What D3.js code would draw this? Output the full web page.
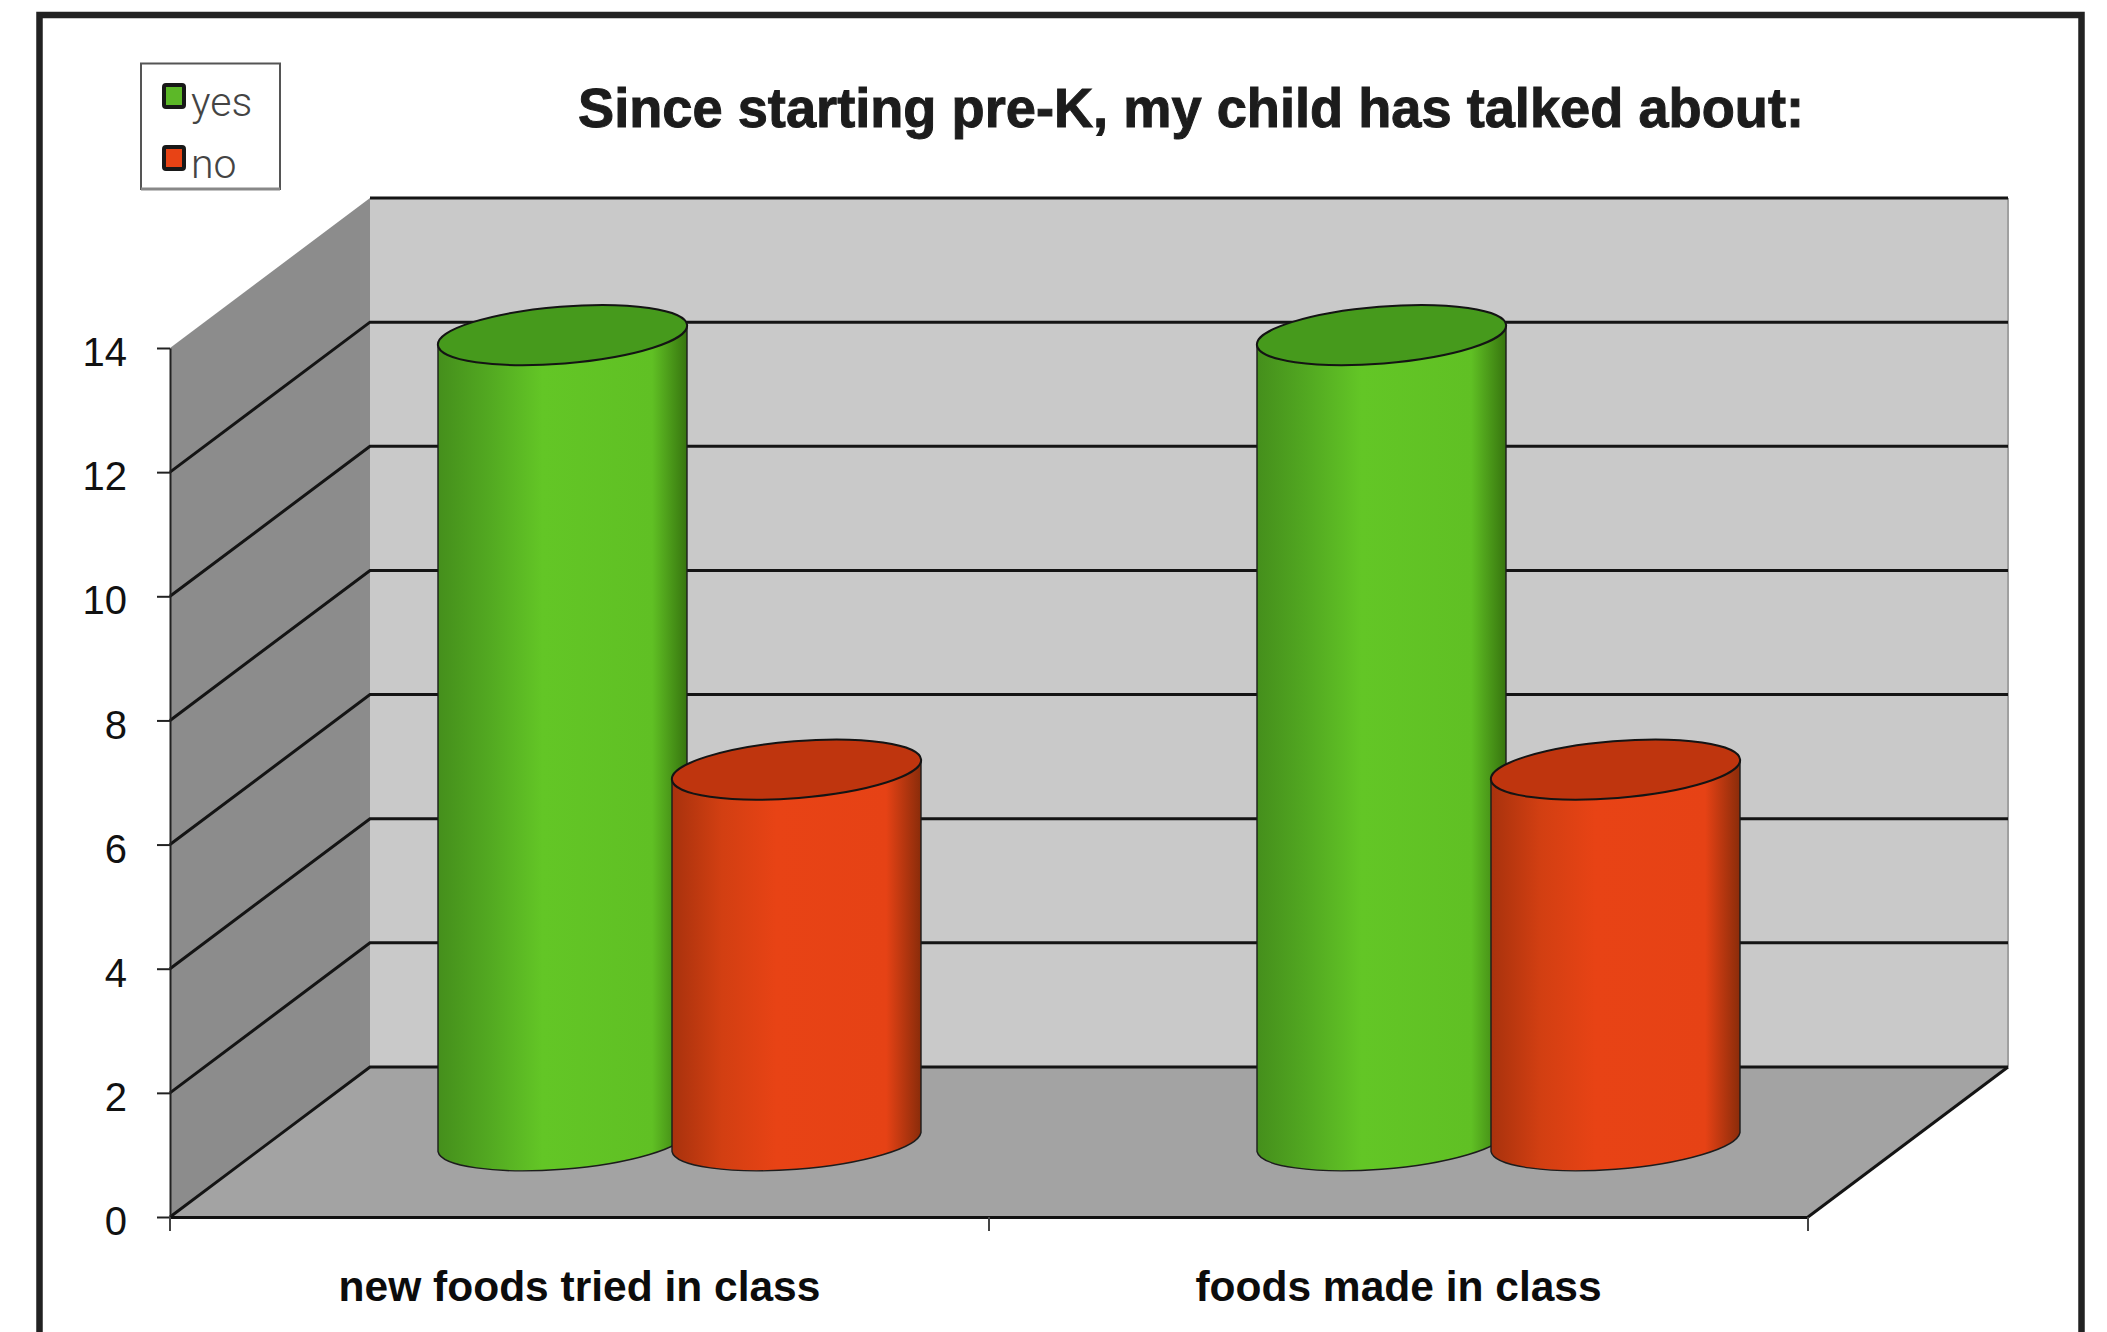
<!DOCTYPE html>
<html>
<head>
<meta charset="utf-8">
<title>Since starting pre-K</title>
<script src="https://d3js.org/d3.v7.min.js"></script>
<style>
	html, body { margin: 0; padding: 0; background: #fff; }
	svg { display: block; }
	text { font-family: "Liberation Sans", Arial, sans-serif; }
</style>
</head>
<body>
<div id="chart"></div>
<script>
var TITLE = "Since starting pre-K, my child has talked about:";
var categories = ["new foods tried in class", "foods made in class"];
var seriesNames = ["yes", "no"];
var yesValues = [13, 13];
var noValues = [6, 6];
var yTicks = [0, 2, 4, 6, 8, 10, 12, 14];

var WIDTH = 2107;
var HEIGHT = 1332;

// the plot is a box: front face plus an offset for the depth of the floor
var FRONT_LEFT = 170, FRONT_RIGHT = 1808, FRONT_BOTTOM = 1217, FRONT_TOP = 348;
var DEPTH_X = 200, DEPTH_Y = -150;

// cylinder top/bottom ellipse, slightly tilted
var RX = 125, RY = 28.4, TILT = -4.6, SIDE_X = 124.5, SIDE_Y = 9.5;

var svg = d3.select("#chart").append("svg").attr("width", WIDTH).attr("height", HEIGHT);
var defs = svg.append("defs");

var y = d3.scaleLinear().domain([0, 14]).range([FRONT_BOTTOM, FRONT_TOP]);
var x0 = d3.scaleBand().domain(categories).range([FRONT_LEFT, FRONT_RIGHT]);
var x1 = d3.scaleBand().domain(seriesNames).range([0, x0.bandwidth()]).paddingInner(0).paddingOuter(0.75);

var colours = {
	yes: { top: "#469a1c", swatch: "#5cb828", stops: [["0%", "#458f1c"], ["20%", "#52a821"], ["42%", "#63c626"], ["86%", "#60c024"], ["100%", "#37750f"]] },
	no: { top: "#bf350e", swatch: "#e84315", stops: [["0%", "#a8320d"], ["20%", "#d23f12"], ["42%", "#e84315"], ["86%", "#e64215"], ["100%", "#8a2c0a"]] }
};

seriesNames.forEach(function(name) {
	let grad = defs.append("linearGradient").attr("id", "body-" + name);
	colours[name].stops.forEach(function(s) {
		grad.append("stop").attr("offset", s[0]).attr("stop-color", s[1]);
	});
});

// white card with the heavy frame, running off the bottom of the picture
svg.append("rect").attr("x", 39.5).attr("y", 15).attr("width", 2042).attr("height", 1400)
	.attr("fill", "#fff").attr("stroke", "#222").attr("stroke-width", 6.5);

svg.append("text").attr("x", 578).attr("y", 127)
	.attr("textLength", 1226).attr("lengthAdjust", "spacingAndGlyphs")
	.style("font-size", "55px").style("font-weight", "bold")
	.attr("fill", "#1c1c1c").attr("stroke", "#1c1c1c").attr("stroke-width", 1).text(TITLE);

// walls and floor
function poly(points) { return "M" + points.map(function(p) { return p.join(","); }).join("L") + "Z"; }
var backBottom = FRONT_BOTTOM + DEPTH_Y, backTop = FRONT_TOP + DEPTH_Y;
var backLeft = FRONT_LEFT + DEPTH_X, backRight = FRONT_RIGHT + DEPTH_X;

svg.append("path").attr("fill", "#c9c9c9")
	.attr("d", poly([[backLeft, backTop], [backRight, backTop], [backRight, backBottom], [backLeft, backBottom]]));
svg.append("line").attr("x1", backRight).attr("x2", backRight).attr("y1", backTop).attr("y2", backBottom)
	.attr("stroke", "#a0a0a0").attr("stroke-width", 2);
svg.append("path").attr("fill", "#8c8c8c")
	.attr("d", poly([[FRONT_LEFT, FRONT_BOTTOM], [backLeft, backBottom], [backLeft, backTop], [FRONT_LEFT, FRONT_TOP]]));
svg.append("path").attr("fill", "#a3a3a3")
	.attr("d", poly([[FRONT_LEFT, FRONT_BOTTOM], [FRONT_RIGHT, FRONT_BOTTOM], [backRight, backBottom], [backLeft, backBottom]]));

// gridlines run along the side wall, then across the back wall
var gridPath = function(v) {
	let yf = y(v);
	if (v == 14) return "M" + backLeft + "," + (yf + DEPTH_Y) + "L" + backRight + "," + (yf + DEPTH_Y);
	return "M" + FRONT_LEFT + "," + yf + "L" + backLeft + "," + (yf + DEPTH_Y) + "L" + backRight + "," + (yf + DEPTH_Y);
};
svg.append("g").selectAll("path").data(yTicks).join("path")
	.attr("d", gridPath).attr("fill", "none").attr("stroke", "#141414")
	.attr("stroke-width", 3);
svg.append("path").attr("fill", "none").attr("stroke", "#141414").attr("stroke-width", 3)
	.attr("d", "M" + FRONT_RIGHT + "," + FRONT_BOTTOM + "L" + backRight + "," + backBottom);

// flatten the data to one cylinder per category and series, in drawing order
var bars = [];
categories.forEach(function(c, i) {
	bars.push({ category: c, series: "yes", value: yesValues[i] });
	bars.push({ category: c, series: "no", value: noValues[i] });
});

var cylinders = svg.append("g").selectAll("g").data(bars).join("g");
function centreX(d) { return x0(d.category) + x1(d.series) + x1.bandwidth() / 2 + DEPTH_X / 2; }
var baseY = function() { return y(0) + DEPTH_Y / 2; };
function topY(d) { return y(d.value) + DEPTH_Y / 2; }

cylinders.append("path")
	.attr("fill", function(d) { return "url(#body-" + d.series + ")"; })
	.attr("stroke", "#1c1c1c").attr("stroke-width", 1.4)
	.attr("d", function(d) {
		let cx = centreX(d), ty = topY(d), by = baseY();
		let arc = "A" + RX + "," + RY + " " + TILT + " 0 0 ";
		return "M" + (cx - SIDE_X) + "," + (ty + SIDE_Y)
			+ "L" + (cx - SIDE_X) + "," + (by + SIDE_Y)
			+ arc + (cx + SIDE_X) + "," + (by - SIDE_Y)
			+ "L" + (cx + SIDE_X) + "," + (ty - SIDE_Y)
			+ arc + (cx - SIDE_X) + "," + (ty + SIDE_Y) + "Z";
	});
cylinders.append("ellipse")
	.attr("cx", centreX).attr("cy", topY).attr("rx", RX).attr("ry", RY)
	.attr("transform", function(d) { return "rotate(" + TILT + "," + centreX(d) + "," + topY(d) + ")"; })
	.attr("fill", function(d) { return colours[d.series].top; })
	.attr("stroke", "#141414").attr("stroke-width", 2);

// value axis on the front edge
var yAxis = svg.append("g").attr("transform", "translate(" + FRONT_LEFT + ",0)")
	.call(d3.axisLeft(y).tickValues(yTicks).tickSize(13).tickSizeOuter(0).tickPadding(30));
yAxis.select(".domain").attr("stroke", "#222").attr("stroke-width", 2);
yAxis.selectAll(".tick line").attr("stroke", "#222").attr("stroke-width", 2);
yAxis.selectAll(".tick text").attr("dy", "0.44em").attr("fill", "#111")
	.style("font-size", "40px").style("font-family", "'Liberation Sans', Arial, sans-serif");

// category axis, ticks sit on the band edges rather than the centres
var xAxis = svg.append("g").attr("transform", "translate(0," + FRONT_BOTTOM + ")")
	.call(d3.axisBottom(x0).tickSize(0).tickPadding(54));
xAxis.select(".domain").attr("stroke", "#111").attr("stroke-width", 3);
xAxis.selectAll(".tick text").attr("fill", "#0c0c0c")
	.style("font-size", "42.5px").style("font-weight", "bold").style("font-family", "'Liberation Sans', Arial, sans-serif");
var edges = categories.map(function(c) { return x0(c); }).concat([x0.range()[1]]);
xAxis.selectAll(".edge").data(edges).join("line").attr("class", "edge")
	.attr("x1", function(d) { return d; }).attr("x2", function(d) { return d; })
	.attr("y1", 0).attr("y2", 14).attr("stroke", "#444").attr("stroke-width", 2);

// legend
var legend = svg.append("g");
legend.append("rect").attr("x", 141).attr("y", 63.5).attr("width", 139).attr("height", 125.5)
	.attr("fill", "#fff").attr("stroke", "#555").attr("stroke-width", 2);
legend.append("line").attr("x1", 141).attr("x2", 280).attr("y1", 189).attr("y2", 189)
	.attr("stroke", "#888").attr("stroke-width", 3);
var legendY = d3.scalePoint().domain(seriesNames).range([96, 158]);
var items = legend.selectAll(".item").data(seriesNames).join("g").attr("class", "item");
items.append("rect").attr("x", 164).attr("width", 20).attr("height", 22).attr("rx", 2)
	.attr("y", function(d) { return legendY(d) - 11; })
	.attr("fill", function(d) { return colours[d].swatch; })
	.attr("stroke", "#181818").attr("stroke-width", 4);
items.append("text").attr("x", 191)
	.attr("y", function(d) { return legendY(d) + 20; })
	.attr("fill", "#444").style("font-family", "Roboto, 'Liberation Sans', sans-serif")
	.style("font-weight", 300).style("font-size", "41px").text(function(d) { return d; });
</script>
</body>
</html>
